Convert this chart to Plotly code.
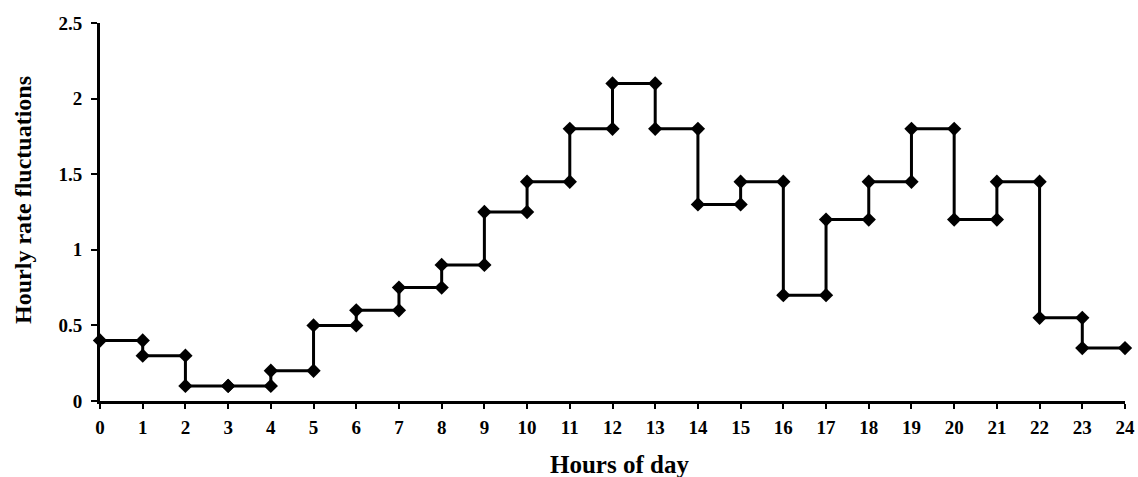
import plotly.graph_objects as go

hours = list(range(25))
rates = [0.4, 0.3, 0.1, 0.1, 0.2, 0.5, 0.6, 0.75, 0.9, 1.25, 1.45, 1.8, 2.1,
         1.8, 1.3, 1.45, 0.7, 1.2, 1.45, 1.8, 1.2, 1.45, 0.55, 0.35]
x_ticks = list(range(25))
y_ticks = [0, 0.5, 1, 1.5, 2, 2.5]
y_tick_text = ["0", "0.5", "1", "1.5", "2", "2.5"]
x_title = "Hours of day"
y_title = "Hourly rate fluctuations"

# step points: each hour gets the previous value and the new value
xs, ys = [], []
for h in hours:
    if h > 0:
        xs.append(h); ys.append(rates[h - 1])
    if h < len(rates):
        xs.append(h); ys.append(rates[h])

font_fam = "Liberation Serif"
fig = go.Figure(go.Scatter(
    x=xs, y=ys, mode="lines+markers",
    line=dict(color="black", width=3),
    marker=dict(symbol="diamond", size=11, color="black"),
    showlegend=False, cliponaxis=False,
))
fig.update_layout(
    width=1138, height=477,
    margin=dict(l=100, r=13, t=23, b=76),
    plot_bgcolor="white", paper_bgcolor="white",
    font=dict(family=font_fam, color="black"),
    annotations=[
        dict(text="<b>%s</b>" % x_title, xref="paper", yref="paper", x=0.507, y=-0.168,
             xanchor="center", yanchor="middle", showarrow=False,
             font=dict(family=font_fam, size=25, color="black")),
        dict(text="<b>%s</b>" % y_title, xref="paper", yref="paper", x=-0.0751, y=0.532,
             xanchor="center", yanchor="middle", textangle=-90, showarrow=False,
             font=dict(family=font_fam, size=24, color="black")),
    ],
)
fig.update_xaxes(
    range=[0, 24], tickvals=x_ticks, ticktext=[str(v) for v in x_ticks],
    showgrid=False, zeroline=False, showline=True, linecolor="black", linewidth=3,
    ticks="outside", ticklen=5, tickwidth=2, tickcolor="black", automargin=False,
    ticklabelstandoff=2,
    tickfont=dict(family=font_fam, size=19, color="black", weight="bold"),
)
fig.update_yaxes(
    range=[0, 2.5], tickvals=y_ticks, ticktext=y_tick_text,
    showgrid=False, zeroline=False, showline=True, linecolor="black", linewidth=3,
    ticks="outside", ticklen=6, tickwidth=2, tickcolor="black", automargin=False,
    ticklabelstandoff=5,
    tickfont=dict(family=font_fam, size=19, color="black", weight="bold"),
)
fig.write_html("out.html", config={"displayModeBar": False},
               post_script="document.body.style.margin='0px';document.body.style.overflow='hidden';")
